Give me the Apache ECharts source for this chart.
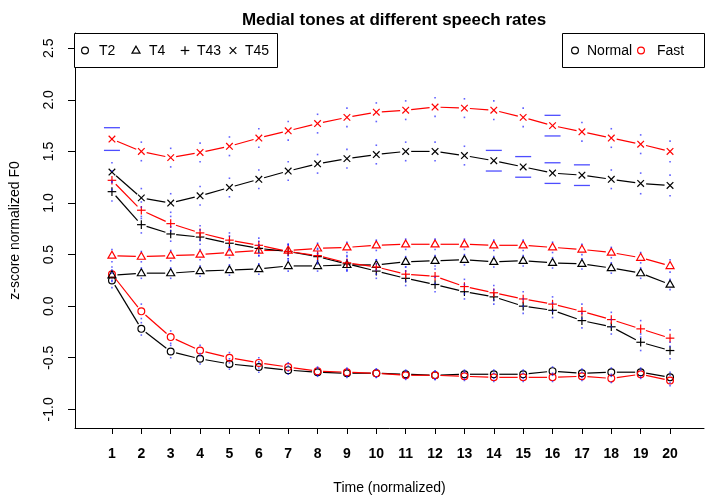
<!DOCTYPE html>
<html>
<head>
<meta charset="utf-8">
<script src="https://cdn.jsdelivr.net/npm/echarts@6/dist/echarts.min.js"></script>
<style>
  html, body { margin: 0; padding: 0; background: #ffffff; }
  #chart { width: 705px; height: 500px; }
</style>
</head>
<body>
<div id="chart"></div>
<script>
// Normalised time points (x axis) and y-axis tick values
const timePoints = [1, 2, 3, 4, 5, 6, 7, 8, 9, 10, 11, 12, 13, 14, 15, 16, 17, 18, 19, 20];
const yTickValues = [-1.0, -0.5, 0.0, 0.5, 1.0, 1.5, 2.0, 2.5];

// Mean z-score F0 per tone and speech rate
const t2Normal  = [0.25, -0.22, -0.44, -0.51, -0.56, -0.59, -0.62, -0.64, -0.65, -0.65, -0.66, -0.67, -0.66, -0.66, -0.66, -0.63, -0.65, -0.64, -0.64, -0.69];
const t2Fast    = [0.31, -0.05, -0.30, -0.43, -0.50, -0.55, -0.59, -0.63, -0.64, -0.65, -0.67, -0.67, -0.68, -0.69, -0.69, -0.69, -0.68, -0.70, -0.66, -0.72];
const t4Normal  = [0.30, 0.32, 0.32, 0.34, 0.35, 0.36, 0.39, 0.39, 0.40, 0.40, 0.43, 0.44, 0.45, 0.43, 0.44, 0.42, 0.41, 0.37, 0.32, 0.21];
const t4Fast    = [0.49, 0.48, 0.49, 0.50, 0.52, 0.54, 0.54, 0.56, 0.57, 0.59, 0.60, 0.60, 0.60, 0.59, 0.59, 0.57, 0.55, 0.52, 0.47, 0.39];
const t43Normal = [1.11, 0.79, 0.70, 0.67, 0.61, 0.56, 0.53, 0.48, 0.41, 0.34, 0.27, 0.21, 0.14, 0.09, 0.00, -0.04, -0.14, -0.20, -0.35, -0.43];
const t43Fast   = [1.22, 0.93, 0.80, 0.71, 0.64, 0.59, 0.53, 0.49, 0.42, 0.38, 0.31, 0.29, 0.19, 0.13, 0.07, 0.02, -0.05, -0.13, -0.22, -0.31];
const t45Normal = [1.30, 1.05, 1.00, 1.07, 1.15, 1.23, 1.31, 1.38, 1.43, 1.47, 1.50, 1.50, 1.46, 1.41, 1.35, 1.29, 1.27, 1.23, 1.19, 1.17];
const t45Fast   = [1.62, 1.50, 1.44, 1.49, 1.55, 1.63, 1.70, 1.77, 1.83, 1.88, 1.90, 1.93, 1.92, 1.90, 1.83, 1.75, 1.69, 1.63, 1.57, 1.50];

// Standard errors (half-width of each error bar)
const t2NormalSe  = [0.07, 0.06, 0.06, 0.05, 0.05, 0.05, 0.04, 0.04, 0.04, 0.04, 0.04, 0.04, 0.04, 0.04, 0.04, 0.04, 0.04, 0.04, 0.04, 0.05];
const t2FastSe    = [0.07, 0.07, 0.06, 0.05, 0.05, 0.05, 0.04, 0.04, 0.04, 0.04, 0.04, 0.04, 0.04, 0.04, 0.04, 0.04, 0.04, 0.04, 0.04, 0.05];
const t4NormalSe  = [0.05, 0.05, 0.05, 0.05, 0.05, 0.05, 0.05, 0.05, 0.05, 0.05, 0.05, 0.05, 0.05, 0.05, 0.05, 0.05, 0.05, 0.05, 0.05, 0.05];
const t4FastSe    = [0.06, 0.05, 0.05, 0.05, 0.05, 0.05, 0.05, 0.05, 0.05, 0.05, 0.05, 0.05, 0.05, 0.05, 0.05, 0.05, 0.05, 0.05, 0.05, 0.06];
const t43NormalSe = [0.09, 0.08, 0.07, 0.07, 0.07, 0.07, 0.07, 0.07, 0.07, 0.07, 0.07, 0.07, 0.07, 0.07, 0.07, 0.07, 0.07, 0.07, 0.08, 0.08];
const t43FastSe   = [0.09, 0.08, 0.07, 0.07, 0.07, 0.07, 0.07, 0.07, 0.07, 0.07, 0.07, 0.07, 0.07, 0.07, 0.07, 0.07, 0.07, 0.07, 0.08, 0.08];
const t45NormalSe = [0.09, 0.09, 0.09, 0.09, 0.09, 0.09, 0.09, 0.09, 0.09, 0.09, 0.09, 0.09, 0.09, 0.10, 0.10, 0.10, 0.10, 0.09, 0.10, 0.10];
const t45FastSe   = [0.11, 0.09, 0.09, 0.09, 0.09, 0.09, 0.09, 0.09, 0.09, 0.09, 0.09, 0.09, 0.09, 0.09, 0.09, 0.10, 0.09, 0.09, 0.09, 0.10];

// Time points whose error bar carries a wide cap
const t45NormalWideCaps = [14, 15, 16, 17];
const t45FastWideCaps   = [1, 16];

const legendTones = ['T2', 'T4', 'T43', 'T45'];
const legendRates = ['Normal', 'Fast'];
const chartTitle = 'Medial tones at different speech rates';
const xAxisTitle = 'Time (normalized)';
const yAxisTitle = 'z-score normalized F0';

const BLACK = '#000000';
const RED = '#ff0000';
const BLUE = '#2020ff';
const GAP = 5.5;
const LW = 1.2;
const FONT = '"Liberation Sans", Arial, Helvetica, sans-serif';

// Marker glyphs in the style of R's pch 1-4, returned as a flat list of elements
function marker(shape, cx, cy, color, z) {
  const st = { stroke: color, fill: 'none', lineWidth: LW };
  const els = [];
  if (shape === 'circle') {
    els.push({ type: 'circle', shape: { cx, cy, r: 3.4 }, style: st });
  } else if (shape === 'triangle') {
    els.push({ type: 'polygon', shape: { points: [[cx, cy - 4.4], [cx - 4.0, cy + 2.6], [cx + 4.0, cy + 2.6]] }, style: st });
  } else if (shape === 'plus') {
    els.push({ type: 'line', shape: { x1: cx - 4.3, y1: cy, x2: cx + 4.3, y2: cy }, style: st });
    els.push({ type: 'line', shape: { x1: cx, y1: cy - 4.3, x2: cx, y2: cy + 4.3 }, style: st });
  } else {
    els.push({ type: 'line', shape: { x1: cx - 3.3, y1: cy - 3.3, x2: cx + 3.3, y2: cy + 3.3 }, style: st });
    els.push({ type: 'line', shape: { x1: cx - 3.3, y1: cy + 3.3, x2: cx + 3.3, y2: cy - 3.3 }, style: st });
  }
  if (z !== undefined) els.forEach(e => { e.z = z; });
  return els;
}

// Points joined by lines that stop short of each marker (R type = "b")
function toneSeries(values, color, shape) {
  return {
    type: 'custom',
    coordinateSystem: 'cartesian2d',
    data: timePoints.map((t, i) => [t, values[i]]),
    z: 3,
    renderItem(params, api) {
      const i = params.dataIndex;
      const p = api.coord([api.value(0), api.value(1)]);
      const children = marker(shape, p[0], p[1], color);
      if (i < timePoints.length - 1) {
        const q = api.coord([timePoints[i + 1], values[i + 1]]);
        const dx = q[0] - p[0], dy = q[1] - p[1];
        const len = Math.hypot(dx, dy);
        if (len > 2 * GAP) {
          const ux = dx / len, uy = dy / len;
          children.push({
            type: 'line',
            shape: { x1: p[0] + ux * GAP, y1: p[1] + uy * GAP, x2: q[0] - ux * GAP, y2: q[1] - uy * GAP },
            style: { stroke: color, lineWidth: LW }
          });
        }
      }
      return { type: 'group', children };
    }
  };
}

// Error bars: tiny blue end marks, or wide caps where listed
function errorSeries(values, se, wide) {
  return {
    type: 'custom',
    coordinateSystem: 'cartesian2d',
    data: timePoints.map((t, i) => [t, values[i] + se[i], values[i] - se[i]]),
    z: 4,
    renderItem(params, api) {
      const t = api.value(0);
      const top = api.coord([t, api.value(1)]);
      const bot = api.coord([t, api.value(2)]);
      const children = [];
      if (wide.indexOf(t) >= 0) {
        [top, bot].forEach(p => children.push({
          type: 'line',
          shape: { x1: p[0] - 8, y1: p[1], x2: p[0] + 8, y2: p[1] },
          style: { stroke: BLUE, lineWidth: 1.3, opacity: 0.8 }
        }));
      } else {
        [top, bot].forEach(p => children.push({
          type: 'rect',
          shape: { x: p[0] - 0.8, y: p[1] - 0.8, width: 1.6, height: 1.6 },
          style: { fill: BLUE, opacity: 0.7 }
        }));
      }
      return { type: 'group', children };
    }
  };
}

// Legend boxes drawn as graphics
function legendGraphics() {
  const g = [];
  const boxStyle = { fill: '#fff', stroke: BLACK, lineWidth: 1 };
  g.push({ type: 'rect', shape: { x: 74.5, y: 33.5, width: 203, height: 34 }, style: boxStyle, z: 10 });
  const toneShapes = ['circle', 'triangle', 'plus', 'cross'];
  const toneSymX = [85, 136, 185, 233];
  const toneTextX = [99, 149, 197, 245];
  legendTones.forEach((name, i) => {
    marker(toneShapes[i], toneSymX[i], 50.5, BLACK, 11).forEach(e => g.push(e));
    g.push({ type: 'text', x: toneTextX[i], y: 51, z: 11,
      style: { text: name, fill: BLACK, font: '14px ' + FONT, verticalAlign: 'middle', textAlign: 'left' } });
  });
  g.push({ type: 'rect', shape: { x: 562.5, y: 33.5, width: 142, height: 34 }, style: boxStyle, z: 10 });
  const rateColors = [BLACK, RED];
  const rateSymX = [575, 641];
  const rateTextX = [587, 657];
  legendRates.forEach((name, i) => {
    marker('circle', rateSymX[i], 50.5, rateColors[i], 11).forEach(e => g.push(e));
    g.push({ type: 'text', x: rateTextX[i], y: 51, z: 11,
      style: { text: name, fill: BLACK, font: '14px ' + FONT, verticalAlign: 'middle', textAlign: 'left' } });
  });
  return g;
}

const chart = echarts.init(document.getElementById('chart'), null, { renderer: 'canvas' });
chart.setOption({
  animation: false,
  backgroundColor: '#ffffff',
  title: {
    text: chartTitle,
    left: 389, top: 7,
    textAlign: 'center',
    textStyle: { fontFamily: FONT, fontSize: 17, fontWeight: 'bold', color: BLACK }
  },
  grid: { left: 74, right: 1, top: 33, bottom: 65 },
  xAxis: {
    type: 'value',
    min: -0.258, max: 21.156,
    name: xAxisTitle,
    nameLocation: 'middle',
    nameGap: 53,
    nameTextStyle: { fontFamily: FONT, fontSize: 14, color: BLACK },
    splitLine: { show: false },
    axisLine: { show: true, onZero: false, lineStyle: { color: BLACK, width: 1 } },
    axisTick: { show: true, customValues: timePoints, length: 6, lineStyle: { color: BLACK, width: 1 } },
    axisLabel: { customValues: timePoints, margin: 19, fontFamily: FONT, fontSize: 14, fontWeight: 'bold', color: BLACK }
  },
  yAxis: {
    type: 'value',
    min: -1.181, max: 2.648,
    name: yAxisTitle,
    nameLocation: 'middle',
    nameGap: 53,
    nameRotate: 90,
    nameTextStyle: { fontFamily: FONT, fontSize: 14, color: BLACK },
    splitLine: { show: false },
    axisLine: { show: true, onZero: false, lineStyle: { color: BLACK, width: 1 } },
    axisTick: { show: true, customValues: yTickValues, length: 7, lineStyle: { color: BLACK, width: 1 } },
    axisLabel: { customValues: yTickValues, rotate: 90, margin: 19, fontFamily: FONT, fontSize: 14, color: BLACK,
      formatter: v => v.toFixed(1) }
  },
  graphic: legendGraphics(),
  series: [
    toneSeries(t2Normal, BLACK, 'circle'),
    toneSeries(t2Fast, RED, 'circle'),
    toneSeries(t4Normal, BLACK, 'triangle'),
    toneSeries(t4Fast, RED, 'triangle'),
    toneSeries(t43Normal, BLACK, 'plus'),
    toneSeries(t43Fast, RED, 'plus'),
    toneSeries(t45Normal, BLACK, 'cross'),
    toneSeries(t45Fast, RED, 'cross'),
    errorSeries(t2Normal, t2NormalSe, []),
    errorSeries(t2Fast, t2FastSe, []),
    errorSeries(t4Normal, t4NormalSe, []),
    errorSeries(t4Fast, t4FastSe, []),
    errorSeries(t43Normal, t43NormalSe, []),
    errorSeries(t43Fast, t43FastSe, []),
    errorSeries(t45Normal, t45NormalSe, t45NormalWideCaps),
    errorSeries(t45Fast, t45FastSe, t45FastWideCaps)
  ]
});
</script>
</body>
</html>
